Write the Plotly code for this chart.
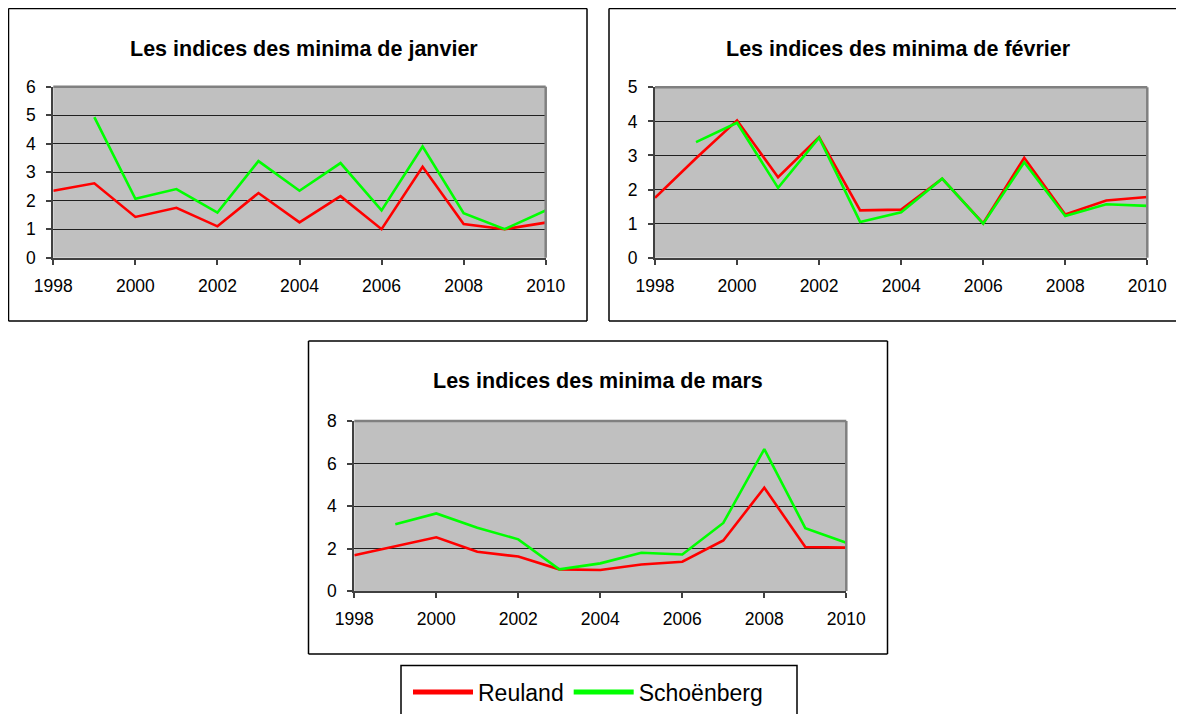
import plotly.graph_objects as go

# The page body has an 8px margin, so the figure is drawn 8px smaller and
# all reference pixel positions are shifted by that offset.
OFF = 8
W, H = 1184 - OFF, 714 - OFF

years = list(range(1998, 2011))

jan_reuland = [2.35, 2.61, 1.43, 1.75, 1.10, 2.27, 1.24, 2.16, 1.00, 3.19, 1.18, 1.00, 1.23]
jan_schoenberg = [None, 4.93, 2.07, 2.41, 1.58, 3.39, 2.35, 3.32, 1.66, 3.90, 1.56, 1.00, 1.66]

feb_reuland = [1.76, 2.92, 4.03, 2.36, 3.54, 1.39, 1.41, 2.32, 1.01, 2.93, 1.27, 1.68, 1.78]
feb_schoenberg = [None, 3.39, 3.96, 2.05, 3.52, 1.05, 1.33, 2.32, 1.00, 2.80, 1.22, 1.57, 1.52]

mar_reuland = [1.68, 2.09, 2.53, 1.85, 1.62, 1.02, 0.99, 1.25, 1.38, 2.38, 4.86, 2.07, 2.04]
mar_schoenberg = [None, 3.14, 3.65, 2.98, 2.43, 1.02, 1.30, 1.80, 1.72, 3.20, 6.68, 2.96, 2.27]

titles = ["Les indices des minima de janvier",
          "Les indices des minima de février",
          "Les indices des minima de mars"]
series_names = ["Reuland", "Schoënberg"]
colors = ["#FF0000", "#00FF00"]


def px(x):
    return (x - OFF) / W


def py(y):
    return 1 - (y - OFF) / H


# panel geometry in page pixels: plot-area (left, right, top, bottom), frame, title position
panels = [
    dict(plot=(53.3, 545.7, 86.7, 257.7), frame=(8.5, 587, 8.5, 321), title=(304, 49),
         data=(jan_reuland, jan_schoenberg), yr=(0, 6), dy=1, right_edge=True),
    dict(plot=(655, 1147.3, 87.3, 257.7), frame=(609, 1190, 8.5, 321), title=(898, 49),
         data=(feb_reuland, feb_schoenberg), yr=(0, 5), dy=1, right_edge=False),
    dict(plot=(354.3, 846.3, 421, 591), frame=(308.5, 887.5, 341, 654), title=(598, 381),
         data=(mar_reuland, mar_schoenberg), yr=(0, 8), dy=2, right_edge=True),
]

fig = go.Figure()
shapes = []
annotations = []
layout = {}
font_family = "Liberation Sans, Arial, sans-serif"


def seg(x0, y0, x1, y1, color, width):
    return dict(type="line", xref="paper", yref="paper",
                x0=px(x0), x1=px(x1), y0=py(y0), y1=py(y1),
                line=dict(color=color, width=width), layer="above")


for i, p in enumerate(panels):
    n = "" if i == 0 else str(i + 1)
    xa, ya = "x" + n, "y" + n
    l, r, t, b = p["plot"]
    for k in range(2):
        fig.add_trace(go.Scatter(
            x=years, y=p["data"][k], mode="lines", name=series_names[k],
            line=dict(color=colors[k], width=2.6), connectgaps=False,
            showlegend=(i == 0), xaxis=xa, yaxis=ya, legendgroup=series_names[k],
        ))
    layout["xaxis" + n] = dict(
        domain=[px(l), px(r)], anchor=ya, range=[1998, 2010], dtick=2, tick0=1998,
        showgrid=False, zeroline=False, showline=True, linecolor="#404040", linewidth=2,
        ticks="outside", ticklen=5, tickwidth=1.5, tickcolor="#404040",
        tickfont=dict(size=17.5, color="black", family=font_family), ticklabelstandoff=6,
    )
    layout["yaxis" + n] = dict(
        domain=[py(b), py(t)], anchor=xa, range=list(p["yr"]), dtick=p["dy"], tick0=0,
        showgrid=True, gridcolor="#202020", gridwidth=1.3, zeroline=False,
        showline=True, linecolor="#404040", linewidth=2,
        ticks="outside", ticklen=5, tickwidth=1.5, tickcolor="#404040",
        tickfont=dict(size=17.5, color="black", family=font_family), ticklabelstandoff=7,
    )
    # top / right plot-area border (gray)
    shapes.append(seg(l, t, r, t, "#808080", 2.5))
    shapes.append(seg(r, t, r, b, "#808080", 2.5))
    # chart frame
    fl, fr, ft, fb = p["frame"]
    shapes.append(seg(fl, ft, fr, ft, "black", 1.5))
    shapes.append(seg(fl, fb, fr, fb, "black", 1.5))
    shapes.append(seg(fl, ft, fl, fb, "black", 1.5))
    if p["right_edge"]:
        shapes.append(seg(fr, ft, fr, fb, "black", 1.5))
    tx, ty = p["title"]
    annotations.append(dict(text="<b>" + titles[i] + "</b>", xref="paper", yref="paper",
                            x=px(tx), y=py(ty), xanchor="center", yanchor="middle",
                            showarrow=False,
                            font=dict(size=21.5, color="black", family=font_family)))

# legend box
shapes.append(dict(type="rect", xref="paper", yref="paper",
                   x0=px(401), x1=px(797), y0=py(720), y1=py(665.5),
                   line=dict(color="black", width=1.5), fillcolor="white", layer="below"))

fig.update_layout(
    width=W, height=H,
    margin=dict(l=0, r=0, t=0, b=0, pad=0, autoexpand=False),
    paper_bgcolor="white",
    plot_bgcolor="#C0C0C0",
    shapes=shapes,
    annotations=annotations,
    showlegend=True,
    legend=dict(orientation="h", x=px(408), y=py(692), xanchor="left", yanchor="middle",
                bgcolor="rgba(0,0,0,0)", borderwidth=0, itemwidth=60,
                font=dict(size=23, color="black", family=font_family),
                tracegroupgap=0, itemsizing="constant"),
    **layout,
)

fig.write_html("out.html")
